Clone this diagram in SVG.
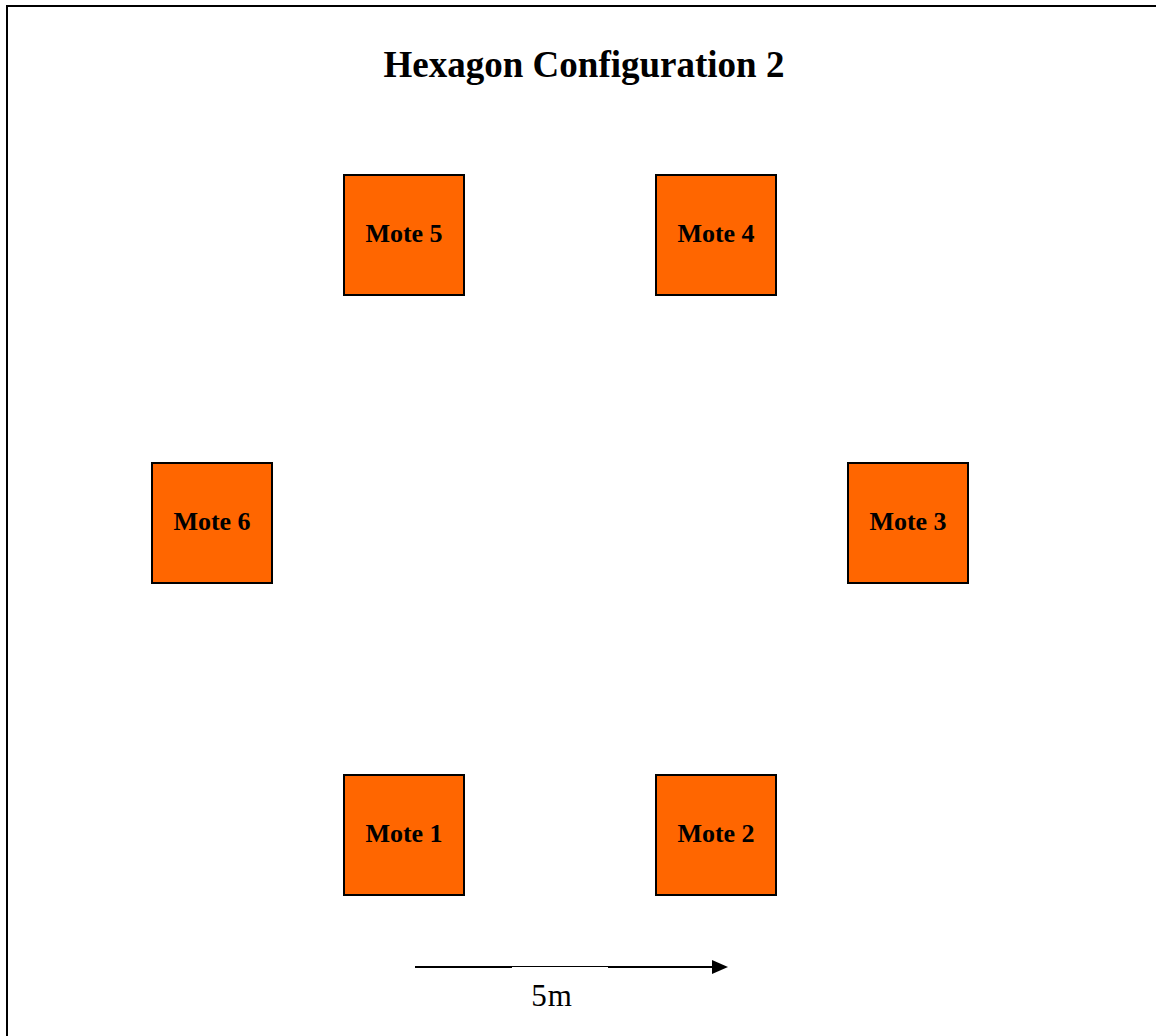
<svg xmlns="http://www.w3.org/2000/svg" width="1156" height="1036" viewBox="0 0 1156 1036">
<style>
.mote rect{fill:#ff6600;stroke:#000;stroke-width:2}
.mote text{font-family:"Liberation Serif",serif;font-weight:bold;font-size:26px;text-anchor:middle;fill:#000}
.title{font-family:"Liberation Serif",serif;font-weight:bold;font-size:37px;text-anchor:middle}
.lbl{font-family:"Liberation Serif",serif;font-size:31px;text-anchor:middle;letter-spacing:1px}
</style>
<rect x="0" y="0" width="1156" height="1036" fill="#fff"/>
<path d="M7,1036 V6 H1156" fill="none" stroke="#000" stroke-width="2"/>
<text class="title" x="584" y="77">Hexagon Configuration 2</text>
<g id="mote5" class="mote"><rect x="344" y="175" width="120" height="120"/><text x="404" y="242">Mote 5</text></g>
<g id="mote4" class="mote"><rect x="656" y="175" width="120" height="120"/><text x="716" y="242">Mote 4</text></g>
<g id="mote6" class="mote"><rect x="152" y="463" width="120" height="120"/><text x="212" y="530">Mote 6</text></g>
<g id="mote3" class="mote"><rect x="848" y="463" width="120" height="120"/><text x="908" y="530">Mote 3</text></g>
<g id="mote1" class="mote"><rect x="344" y="775" width="120" height="120"/><text x="404" y="842">Mote 1</text></g>
<g id="mote2" class="mote"><rect x="656" y="775" width="120" height="120"/><text x="716" y="842">Mote 2</text></g>
<g id="connectors">
<line x1="415" y1="967" x2="512" y2="967" stroke="#000" stroke-width="2"/>
<line x1="512" y1="966.5" x2="608" y2="966.5" stroke="#000" stroke-width="1"/>
<line x1="608" y1="967" x2="714" y2="967" stroke="#000" stroke-width="2"/>
<polygon points="712,960 728,967 712,974" fill="#000"/>
</g>
<text class="lbl" x="552" y="1006">5m</text>
</svg>
